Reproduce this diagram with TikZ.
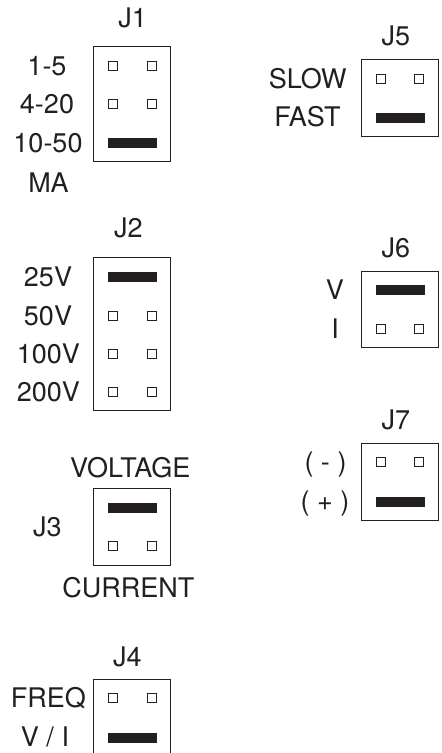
\documentclass[tikz,border=0pt]{standalone}
\usepackage{fontspec}
\setmainfont{TeX Gyre Heros}
\definecolor{ink}{HTML}{231F20}
\begin{document}
\begin{tikzpicture}[x=1pt,y=-1pt,
  jbox/.style={draw=ink,line width=1pt,minimum width=77.4pt,inner sep=0pt},
  pin/.style={draw=ink,line width=0.9pt,minimum size=9pt,inner sep=0pt},
  bar/.style={fill=ink,minimum width=49pt,minimum height=10pt,inner sep=0pt},
  lbl/.style={text=ink,inner sep=0pt,text height=19.3pt,text depth=0pt,font=\fontsize{27}{30}\selectfont}]
\useasboundingbox (0,0) rectangle (442,753);
\clip (0,0) rectangle (442,753);
% J1
\node[jbox,minimum height=115pt] (j1box) at (132,104.2) {};
\node[lbl] (j1) at (132.7,18.3) {J1};
\node[pin] (j1p1a) at (113.3,65.7) {};
\node[pin] (j1p1b) at (151.7,65.7) {};
\node[pin] (j1p2a) at (113.3,104) {};
\node[pin] (j1p2b) at (151.7,104) {};
\node[bar] (j1bar) at (132.5,142.5) {};
\node[lbl] (l15) at (47,65.7) {1-5};
\node[lbl] (l420) at (47,104) {4-20};
\node[lbl] (l1050) at (48,142.7) {10-50};
\node[lbl] (lma) at (48.5,182.7) {MA};
% J2
\node[jbox,minimum height=153.3pt] (j2box) at (132,334.3) {};
\node[lbl] (j2) at (128.3,228.3) {J2};
\node[bar] (j2bar) at (132.5,276.7) {};
\node[pin] (j2p2a) at (113.3,315.7) {};
\node[pin] (j2p2b) at (151.7,315.7) {};
\node[pin] (j2p3a) at (113.3,354) {};
\node[pin] (j2p3b) at (151.7,354) {};
\node[pin] (j2p4a) at (113.3,392.3) {};
\node[pin] (j2p4b) at (151.7,392.3) {};
\node[lbl] (l25) at (48,276.7) {25V};
\node[lbl] (l50) at (48,315.7) {50V};
\node[lbl] (l100) at (48.3,354) {100V};
\node[lbl] (l200) at (48.3,392.3) {200V};
% J3
\node[jbox,minimum height=76.7pt] (j3box) at (132,526.7) {};
\node[lbl] (j3) at (47.5,526.7) {J3};
\node[bar] (j3bar) at (132.5,507.5) {};
\node[pin] (j3pa) at (113.3,545.7) {};
\node[pin] (j3pb) at (151.7,545.7) {};
\node[lbl] (lvolt) at (130.3,468.3) {VOLTAGE};
\node[lbl] (lcurr) at (128.3,588.3) {CURRENT};
% J4
\node[jbox,minimum height=76.7pt] (j4box) at (132,718.3) {};
\node[lbl] (j4) at (127.5,656.7) {J4};
\node[pin] (j4pa) at (113.3,698.3) {};
\node[pin] (j4pb) at (151.7,698.3) {};
\node[bar] (j4bar) at (132.5,737.5) {};
\node[lbl] (lfreq) at (48.3,698.3) {FREQ};
\node[lbl] (lvi) at (45,737) {V / I};
% J5
\node[jbox,minimum height=76.7pt] (j5box) at (400,98.3) {};
\node[lbl] (j5) at (396,36) {J5};
\node[pin] (j5pa) at (380.7,79) {};
\node[pin] (j5pb) at (419.3,79) {};
\node[bar] (j5bar) at (400,117.5) {};
\node[lbl] (lslow) at (307.7,79) {SLOW};
\node[lbl] (lfast) at (307.5,117.3) {FAST};
% J6
\node[jbox,minimum height=76.7pt] (j6box) at (400,309.4) {};
\node[lbl] (j6) at (396,248.3) {J6};
\node[bar] (j6bar) at (400,290.3) {};
\node[pin] (j6pa) at (380.7,328.7) {};
\node[pin] (j6pb) at (419.3,328.7) {};
\node[lbl] (lv) at (335,290.3) {V};
\node[lbl] (li) at (335,328.7) {I};
% J7
\node[jbox,minimum height=77.4pt] (j7box) at (400,482) {};
\node[lbl] (j7) at (396,420) {J7};
\node[pin] (j7pa) at (380.7,462.3) {};
\node[pin] (j7pb) at (419.3,462.3) {};
\node[bar] (j7bar) at (400,501.5) {};
\node[lbl] (lminus) at (325.5,462.3) {( - )};
\node[lbl] (lplus) at (325,501) {( + )};
\end{tikzpicture}
\end{document}
